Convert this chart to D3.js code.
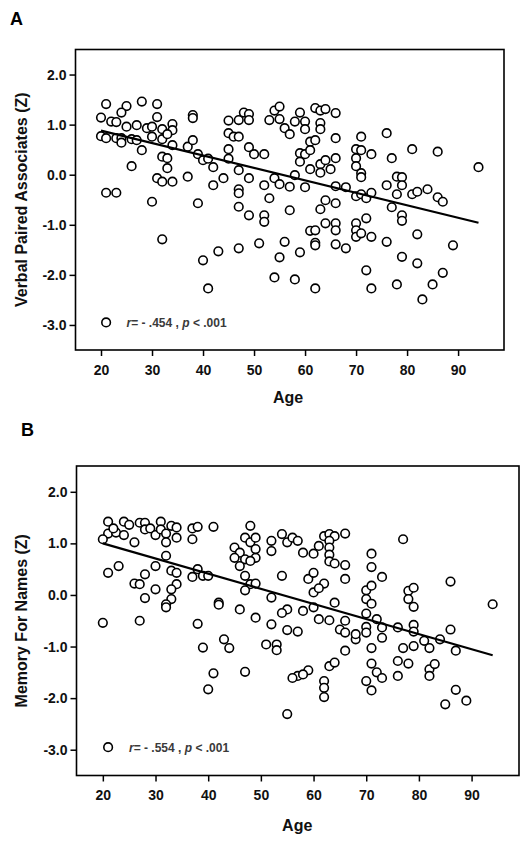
<!DOCTYPE html>
<html>
<head>
<meta charset="utf-8">
<script src="https://cdn.jsdelivr.net/npm/d3@7"></script>
<style>
  html, body { margin: 0; padding: 0; background: #fff; }
  svg text { font-family: Arial, "Liberation Sans", sans-serif; }
</style>
</head>
<body>
<svg id="chart" width="530" height="845"></svg>
<script>
// ---------- DATA ----------
const xTicks = [20, 30, 40, 50, 60, 70, 80, 90];
const yTicks = [-3, -2, -1, 0, 1, 2];

// Panel A: Age vs Verbal Paired Associates (Z)
const pointsA = [
  [21,1.41],[25,1.37],[28,1.46],[31,1.41],[24,1.24],[20,1.14],[22,1.06],[23,1.05],[25,0.96],[27,0.99],
  [29,0.93],[30,0.96],[31,1.15],[32,0.91],[34,1.01],[34,0.89],[38,1.19],[38,1.13],[45,1.08],[47,1.09],
  [48,1.24],[49,1.21],[49,1.09],[53,1.09],[54,1.28],[55,1.36],[55,1.11],
  [45,0.83],[46,0.76],[47,0.76],[20,0.77],[21,0.73],[23,0.73],[24,0.73],[24,0.64],[26,0.71],[27,0.69],
  [28,0.49],[30,0.76],[32,0.71],[33,0.81],[34,0.59],[37,0.56],[38,0.69],[39,0.41],[40,0.29],[41,0.32],
  [42,0.15],[44,-0.07],[45,0.51],[45,0.32],[47,0.09],[49,0.55],[49,-0.07],[50,0.41],[52,0.41],[52,-0.21],
  [54,-0.07],[55,-0.19],
  [32,0.36],[33,0.33],[33,0.13],[31,-0.07],[32,-0.14],[34,-0.14],[37,-0.04],[26,0.17],[21,-0.36],[23,-0.36],
  [30,-0.54],[39,-0.57],[42,-0.21],[47,-0.29],[47,-0.37],[47,-0.64],[49,-0.81],[52,-0.81],[52,-0.94],[53,-0.47],
  [32,-1.29],[43,-1.53],[47,-1.47],[51,-1.37],[40,-1.71],[41,-2.27],
  [56,0.93],[57,0.81],[58,1.06],[59,1.24],[60,1.06],[60,0.91],[62,1.33],[63,1.28],[64,1.31],[63,1.03],
  [63,0.91],[66,1.23],[61,0.66],[62,0.69],[66,0.73],[59,0.43],[60,0.41],[61,0.49],[59,0.26],[61,0.11],
  [63,0.21],[64,0.29],[65,0.11],[63,0.04],[66,0.33],[58,-0.01],[57,-0.24],[60,-0.25],[66,-0.23],[68,-0.25],
  [57,-0.71],[63,-0.69],[64,-0.51],[66,-0.57],[70,0.51],[70,0.33],[70,0.17],[71,0.76],[71,0.49],[73,0.41],
  [71,0.03],[71,-0.05],[70,-0.43],[71,-0.39],[72,-0.47],[73,-0.36],[76,0.83],[77,0.33],[76,-0.21],[78,-0.04],
  [79,-0.05],[79,-0.21],[78,-0.39],[77,-0.65],[79,-0.81],[79,-0.92],[81,0.51],[86,0.46],[81,-0.39],[82,-0.34],
  [84,-0.29],[86,-0.45],[87,-0.54],[94,0.15],[72,-0.87],[70,-0.97],[70,-1.11],[70,-1.24],[71,-1.17],[73,-1.24],
  [64,-0.97],[66,-0.97],[66,-1.11],[61,-1.12],[62,-1.11],[62,-1.36],[66,-1.39],[68,-1.47],[56,-1.34],[59,-1.55],
  [76,-1.34],[82,-1.19],[89,-1.41],
  [55,-1.65],[54,-2.05],[58,-2.09],[62,-2.27],[62,-1.41],[72,-1.91],[73,-2.27],[79,-1.64],[78,-2.19],[82,-1.77],
  [83,-2.49],[85,-2.19],[87,-1.96]
];
const fitA = [[20, 0.88], [94, -0.96]];
const statA = { r: "- .454", p: ".001" };

// Panel B: Age vs Memory For Names (Z)
const pointsB = [
  [21,1.42],[24,1.42],[27,1.40],[28,1.40],[31,1.42],[33,1.34],[34,1.31],[37,1.29],[38,1.32],[41,1.32],
  [48,1.34],[21,1.19],[22.5,1.21],[24,1.16],[25,1.36],[26,1.02],[28,1.27],[29,1.29],[30,1.16],[31,1.27],
  [32,1.19],[32,1.02],[34,1.11],[37,1.08],[20,1.08],[22,1.29],
  [32,0.76],[30,0.56],[33,0.47],[34,0.43],[34,0.21],[33,0.11],[33,-0.08],[32,-0.18],[32,-0.24],[28,0.40],
  [26,0.22],[27,0.21],[30,0.11],[28,-0.06],[23,0.56],[21,0.43],[37,0.35],[38,0.50],[39,0.37],[40,0.37],
  [42,-0.15],[42,-0.19],[46,-0.28],[49,-0.44],
  [47,1.11],[48,1.02],[49,1.11],[45,0.92],[46,0.82],[45,0.72],[47,0.69],[49,0.72],[49,0.89],[46,0.56],
  [48,0.66],[47,0.37],[48,0.21],[47,0.09],[49,0.22],[52,1.05],[52,0.85],[52,-0.05],[52,-0.57],[51,-0.96],
  [53,-0.96],[53,-1.07],[20,-0.54],[27,-0.50],[38,-0.56],[39,-1.02],[43,-0.86],[44,-1.03],[41,-1.52],[47,-1.49],
  [40,-1.83],
  [54,1.18],[55,1.02],[56,1.11],[57,1.05],[58,0.82],[60,0.80],[62,1.14],[63,1.18],[64,1.14],[66,1.19],
  [61,0.95],[63,1.05],[63,0.92],[63,0.78],[63,0.65],[64,0.61],[66,0.58],[66,0.31],[54,0.37],[59,0.31],
  [60,0.43],[62,0.22],[60,0.05],[61,0.13],[55,-0.28],[58,-0.31],[60,-0.24],[61,-0.47],[63,-0.49],[64,-0.15],
  [66,-0.50],[65,-0.67],[66,-0.73],[68,-0.86],[55,-0.68],[57,-0.71],[66,-1.08],[71,0.80],[71,0.54],[73,0.35],
  [70,0.09],[71,0.18],[70,-0.08],[71,-0.17],[70,-0.36],[70,-0.62],[72,-0.47],[73,-0.63],[73,-0.83],[71,-1.03],
  [77,1.08],[78,0.08],[79,0.14],[78,-0.08],[79,-0.23],[76,-0.63],[79,-0.58],[79,-0.71],[79,-0.99],[81,-0.89],
  [82,-1.03],[84,-0.86],[86,-0.67],[87,-1.08],[86,0.26],[94,-0.18],[77,-1.03],[76,-1.28],[78,-1.33],[82,-1.44],
  [83,-1.34],[82,-1.57],[71,-1.33],[72,-1.50],[73,-1.61],[70,-1.67],[76,-1.57],[62,-1.67],[59,-1.46],[57,-1.57],
  [56,-1.61],[63,-1.38],[64,-1.31],[87,-1.84],
  [58,-1.54],[55,-2.31],[62,-1.80],[62,-1.98],[71,-1.85],[85,-2.12],[89,-2.05],[54,-0.35],[68,-0.76],[70,-0.73]
];
const fitB = [[20, 1.00], [94, -1.17]];
const statB = { r: "- .554", p: ".001" };

// ---------- DRAWING ----------
const svg = d3.select("#chart");

function panel(cfg) {
  const x = d3.scaleLinear().domain([15, 99]).range([cfg.left, cfg.right]);
  const y = d3.scaleLinear().domain([-3.5, 2.5]).range([cfg.bottom, cfg.top]);
  const g = svg.append("g");

  // panel letter
  g.append("text").attr("x", cfg.letterX).attr("y", cfg.letterY)
    .attr("font-size", 18).attr("font-weight", "bold").text(cfg.letter);

  // axes
  const fmt = d => d.toFixed(1);
  const ya = g.append("g").attr("transform", `translate(${cfg.left},0)`)
    .call(d3.axisLeft(y).tickValues(yTicks).tickFormat(fmt).tickSize(6).tickPadding(3));
  const xa = g.append("g").attr("transform", `translate(0,${cfg.bottom})`)
    .call(d3.axisBottom(x).tickValues(xTicks).tickSize(6).tickPadding(9));
  [ya, xa].forEach(a => {
    a.select(".domain").remove();
    a.selectAll(".tick line").attr("stroke", "#000").attr("stroke-width", 1.5);
    a.selectAll(".tick text").attr("fill", "#111").attr("font-size", 14)
      .attr("font-weight", "bold").attr("font-family", 'Arial, "Liberation Sans", sans-serif');
  });

  // points
  g.append("g").selectAll("circle").data(cfg.points).join("circle")
    .attr("cx", d => x(d[0])).attr("cy", d => y(d[1])).attr("r", 4.3)
    .attr("fill", "#fff").attr("stroke", "#000").attr("stroke-width", 1.6);

  // regression line
  g.append("path").datum(cfg.fit)
    .attr("d", d3.line().x(d => x(d[0])).y(d => y(d[1])))
    .attr("stroke", "#000").attr("stroke-width", 2.2).attr("fill", "none");

  // frame
  g.append("rect").attr("x", cfg.left).attr("y", cfg.top)
    .attr("width", cfg.right - cfg.left).attr("height", cfg.bottom - cfg.top)
    .attr("fill", "none").attr("stroke", "#000").attr("stroke-width", 1.6);

  // legend
  g.append("circle").attr("cx", x(21)).attr("cy", y(-2.95)).attr("r", 4.3)
    .attr("fill", "#fff").attr("stroke", "#000").attr("stroke-width", 1.6);
  const t = g.append("text").attr("x", cfg.legendX).attr("y", y(-2.95) + 4.5)
    .attr("font-size", 12).attr("font-weight", "bold").attr("fill", "#3a3a3a");
  t.append("tspan").attr("font-style", "italic").text("r");
  t.append("tspan").text(`= ${cfg.stat.r} , `);
  t.append("tspan").attr("font-style", "italic").text("p");
  t.append("tspan").text(` < ${cfg.stat.p}`);

  // axis titles
  g.append("text").attr("x", (x(20) + x(90)) / 2 + cfg.ageDx).attr("y", cfg.ageY)
    .attr("text-anchor", "middle").attr("font-size", 16).attr("font-weight", "bold")
    .attr("fill", "#111").text("Age");
  g.append("text")
    .attr("transform", `translate(26.5,${(cfg.top + cfg.bottom) / 2}) rotate(-90)`)
    .attr("text-anchor", "middle").attr("font-size", 16).attr("font-weight", "bold")
    .attr("fill", "#111").text(cfg.yTitle);
}

panel({
  letter: "A", letterX: 10, letterY: 25,
  left: 75.5, right: 504, top: 49.5, bottom: 350,
  points: pointsA, fit: fitA, stat: statA, legendX: 126.5,
  ageY: 403, ageDx: 8.5, yTitle: "Verbal Paired Associates (Z)"
});
panel({
  letter: "B", letterX: 21, letterY: 436,
  left: 76.5, right: 519, top: 466, bottom: 775.5,
  points: pointsB, fit: fitB, stat: statB, legendX: 129,
  ageY: 831, ageDx: 10, yTitle: "Memory For Names (Z)"
});
</script>
</body>
</html>
